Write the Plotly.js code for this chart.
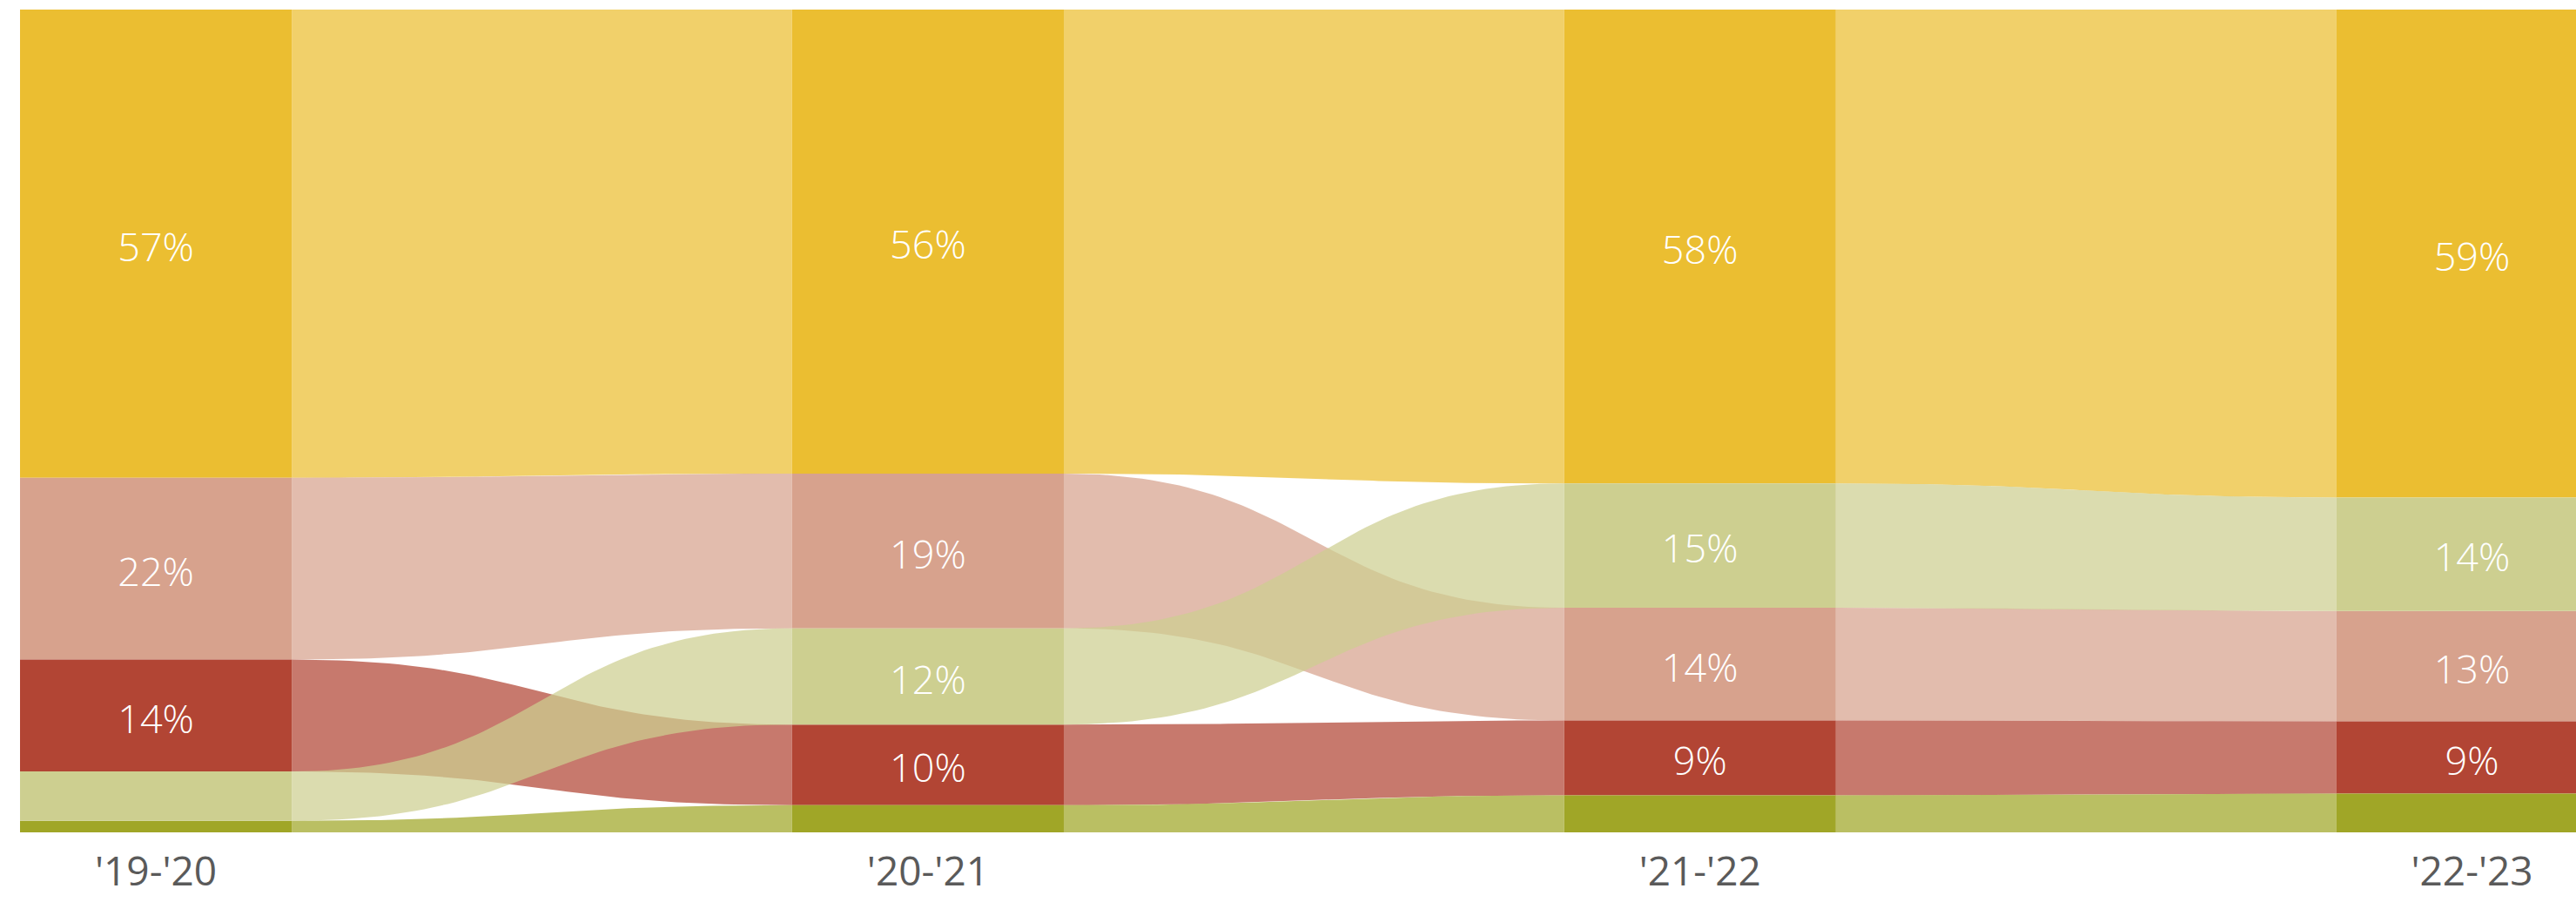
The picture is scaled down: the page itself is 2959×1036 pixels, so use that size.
<!DOCTYPE html>
<html>
<head>
<meta charset="utf-8">
<script src="https://cdn.plot.ly/plotly-3.0.1.min.js"></script>
<style>html,body{margin:0;padding:0;background:#fff;}#chart{width:2959px;height:1036px;}</style>
</head>
<body>
<div id="chart"></div>
<script>
// ---- data (percent share per school year) ----
const years = ["'19-'20", "'20-'21", "'21-'22", "'22-'23"];
const yellowShare = [56.9, 56.4, 57.6, 59.3];
const pinkShare = [22.1, 18.8, 13.7, 13.4];
const redShare = [13.6, 9.8, 9.1, 8.8];
const lightGreenShare = [6.0, 11.7, 15.1, 13.8];
const oliveShare = [1.4, 3.3, 4.5, 4.7];

// ---- styling ----
const series = [
  {name: 'yellow', values: yellowShare, color: [235, 190, 49]},
  {name: 'pink', values: pinkShare, color: [215, 162, 141]},
  {name: 'red', values: redShare, color: [178, 69, 52]},
  {name: 'olive', values: oliveShare, color: [160, 166, 39]},
  {name: 'lightgreen', values: lightGreenShare, color: [205, 207, 144]}
];
const barWidth = 0.352;
const flowAlpha = 0.72;
const labelDrop = 0.9; // small downward nudge of value labels (axis units)
const fontFamily = '"Open Sans", "Segoe UI", sans-serif';

// ---- stacking: each year sorted by share, largest on top ----
const xs = years.map((_, i) => i);
series.forEach(s => { s.top = []; s.bottom = []; });
years.forEach((_, j) => {
  const order = series.slice().sort((a, b) => b.values[j] - a.values[j]);
  let top = 100;
  order.forEach(s => { s.top[j] = top; s.bottom[j] = top - s.values[j]; top -= s.values[j]; });
});

function rgb(c) { return 'rgb(' + c.join(',') + ')'; }
function rgba(c, a) { return 'rgba(' + c.join(',') + ',' + a + ')'; }

// link shape: cubic bezier with both control points at mid x
function edge(x0, x1, y0, y1, n) {
  const xm = (x0 + x1) / 2, px = [], py = [];
  for (let k = 0; k <= n; k++) {
    const t = k / n, u = 1 - t;
    px.push(u*u*u*x0 + 3*u*u*t*xm + 3*u*t*t*xm + t*t*t*x1);
    py.push(y0 + (y1 - y0) * (3*t*t - 2*t*t*t));
  }
  return [px, py];
}

const traces = [];
// flows
series.forEach(s => {
  for (let j = 0; j < years.length - 1; j++) {
    const xa = xs[j] + barWidth / 2, xb = xs[j + 1] - barWidth / 2;
    const [tx, ty] = edge(xa, xb, s.top[j], s.top[j + 1], 60);
    const [bx, by] = edge(xa, xb, s.bottom[j], s.bottom[j + 1], 60);
    traces.push({
      type: 'scatter', mode: 'lines',
      x: tx.concat(bx.slice().reverse()),
      y: ty.concat(by.slice().reverse()),
      fill: 'toself', fillcolor: rgba(s.color, flowAlpha),
      line: {width: 0, color: 'rgba(0,0,0,0)'},
      hoverinfo: 'skip', showlegend: false
    });
  }
});
// bars (nodes)
series.forEach(s => {
  traces.push({
    type: 'bar', x: xs, y: s.values, base: s.bottom, width: barWidth,
    marker: {color: rgb(s.color), line: {width: 0}},
    hoverinfo: 'skip', showlegend: false
  });
});
// value labels, centred in each node
const labelX = [], labelY = [], labelT = [];
series.forEach(s => {
  s.values.forEach((v, j) => {
    if (v >= 8) { labelX.push(xs[j]); labelY.push((s.top[j] + s.bottom[j]) / 2 - labelDrop); labelT.push(Math.round(v) + '%'); }
  });
});
traces.push({
  type: 'scatter', mode: 'text', x: labelX, y: labelY, text: labelT,
  textposition: 'middle center',
  textfont: {color: '#ffffff', size: 45, family: fontFamily, weight: 350},
  hoverinfo: 'skip', showlegend: false
});

const layout = {
  width: 2959, height: 1036,
  margin: {l: 23, r: 0, t: 11, b: 80},
  paper_bgcolor: '#ffffff', plot_bgcolor: '#ffffff',
  barmode: 'overlay', showlegend: false,
  xaxis: {
    range: [-barWidth / 2, 3.1347], tickvals: xs, ticktext: years,
    showgrid: false, zeroline: false, showline: false, ticks: '',
    ticklabelstandoff: 14,
    tickfont: {size: 46, color: '#5a5a5a', family: fontFamily, weight: 400}, fixedrange: true
  },
  yaxis: {range: [0, 100], visible: false, showgrid: false, zeroline: false, fixedrange: true}
};

Plotly.newPlot('chart', traces, layout, {displayModeBar: false, staticPlot: true});
</script>
</body>
</html>
